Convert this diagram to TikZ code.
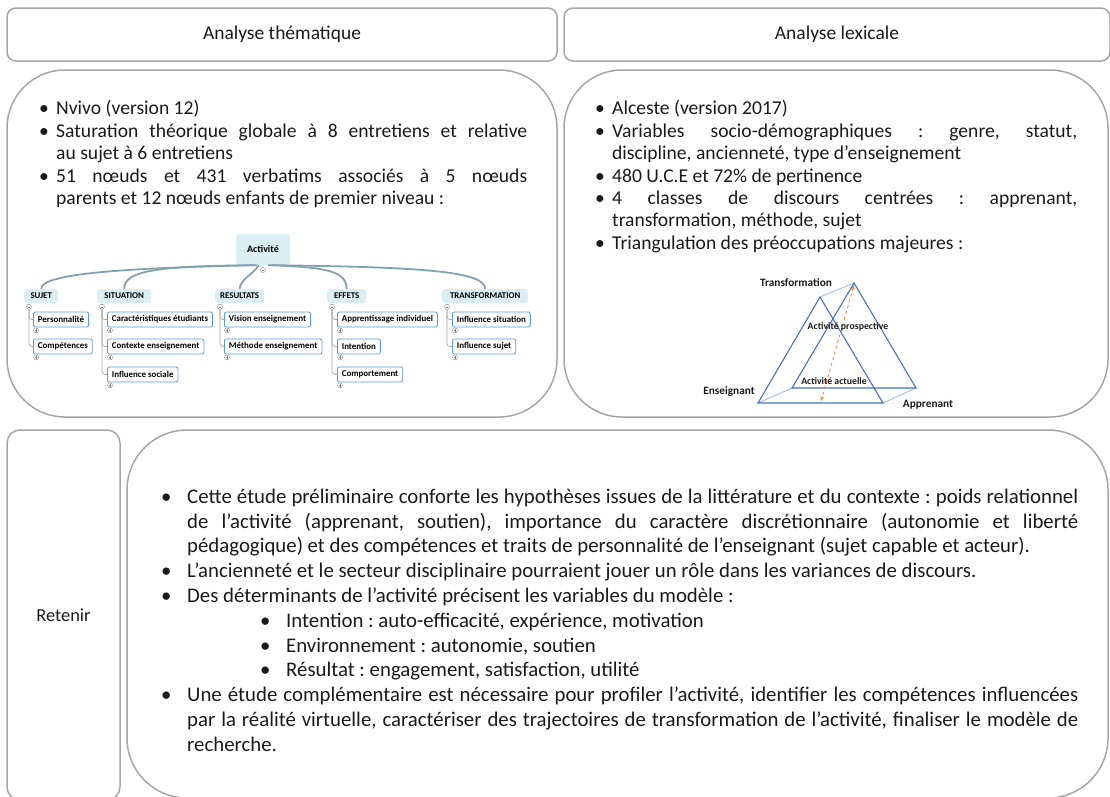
\documentclass[tikz,border=0pt]{standalone}
\usepackage{fontspec}
\setmainfont{Carlito}
\usetikzlibrary{positioning, arrows.meta, calc}
\definecolor{bord}{HTML}{A6A6A6}
\definecolor{mmfond}{HTML}{DAEEF3}
\definecolor{mmbleu}{HTML}{5B9BD5}
\definecolor{mmtrait}{HTML}{84A2AC}
\definecolor{tribleu}{HTML}{4472C4}
\definecolor{triclair}{HTML}{9DB5E0}
\definecolor{triorange}{HTML}{ED7D31}
\definecolor{texte}{HTML}{1A1A1A}
\frenchspacing
% puces des listes
\newcommand{\puce}[2][17pt]{\par\noindent\hangindent=#1\hangafter=1\makebox[#1][l]{\textbullet}#2\par}
\newcommand{\souspuce}[1]{\par\noindent\hangindent=125pt\hangafter=1\hspace*{99pt}\makebox[26pt][l]{\textbullet}#1\par}

\begin{document}
\begin{tikzpicture}[x=1pt, y=-1pt,
    cadre/.style={draw=bord, line width=1.5pt, inner sep=0pt},
    liste/.style={inner sep=0pt, align=justify, text=texte, font=\fontsize{19.6}{22.4}\selectfont},
    mmracine/.style={fill=mmfond, rounded corners=3pt, font=\fontsize{10}{11}\selectfont\bfseries, minimum width=54pt, minimum height=31pt, inner sep=0pt},
    mmparent/.style={fill=mmfond, rounded corners=3pt, font=\fontsize{8.8}{9}\selectfont\bfseries, minimum height=14pt, inner xsep=5pt, inner ysep=0pt, anchor=west},
    mmenfant/.style={draw=mmbleu, fill=white, line width=0.8pt, rounded corners=2pt, font=\fontsize{8.9}{9}\selectfont\bfseries, minimum height=15pt, inner xsep=4.5pt, inner ysep=0pt, anchor=west},
    mmtrait/.style={draw=mmtrait, line width=1.8pt},
    mmfil/.style={draw=bord, line width=0.7pt, rounded corners=3pt},
    mmmoins/.style={circle, draw=gray, fill=white, line width=0.4pt, inner sep=0pt, minimum size=5pt,
      path picture={\draw[gray, line width=0.4pt] ([xshift=-1.4pt]path picture bounding box.center) -- ([xshift=1.4pt]path picture bounding box.center);}},
    mmplus/.style={mmmoins, path picture={\draw[gray, line width=0.4pt] ([xshift=-1.4pt]path picture bounding box.center) -- ([xshift=1.4pt]path picture bounding box.center) ([yshift=-1.4pt]path picture bounding box.center) -- ([yshift=1.4pt]path picture bounding box.center);}},
    tri/.style={draw=tribleu, line width=1.1pt},
    triarete/.style={draw=triclair, line width=0.8pt},
    trilabel/.style={font=\fontsize{9.8}{11}\selectfont\bfseries, text=texte, inner sep=1pt},
    trisommet/.style={trilabel, font=\fontsize{11.3}{12}\selectfont\bfseries}]
  \useasboundingbox (0,0) rectangle (1110,796);
  \clip (0,0) rectangle (1110,796);

  % en-tetes
  \node[cadre, rounded corners=9pt, minimum width=550pt, minimum height=53pt, font=\fontsize{19.5}{22}\selectfont, text=texte] (thema) at (282,34.5) {Analyse thématique};
  \node[cadre, rounded corners=9pt, minimum width=546pt, minimum height=53pt, font=\fontsize{19.5}{22}\selectfont, text=texte] (lexi) at (837,34.5) {Analyse lexicale};

  % cadres principaux
  \node[cadre, rounded corners=58pt, minimum width=550pt, minimum height=347pt] (cadreg) at (282,243.5) {};
  \node[cadre, rounded corners=58pt, minimum width=544pt, minimum height=347pt] (cadred) at (836,243.5) {};
  \node[cadre, rounded corners=13pt, minimum width=113pt, minimum height=370pt, font=\fontsize{18.4}{22}\selectfont, text=texte] (retenir) at (63.5,615) {Retenir};
  \node[cadre, rounded corners=60pt, minimum width=981pt, minimum height=368pt] (cadreb) at (617.5,614) {};

  % texte analyse thematique
  \node[liste, text width=488pt, anchor=west] (txtg) at (39,150) {%
    \puce{Nvivo (version 12)}
    \puce{Saturation théorique globale à 8 entretiens et relative\linebreak au sujet à 6 entretiens}
    \puce{51 nœuds et 431 verbatims associés à 5 nœuds\linebreak parents et 12 nœuds enfants de premier niveau :}};

  % texte analyse lexicale
  \node[liste, text width=482pt, anchor=west] (txtd) at (595,172.5) {%
    \puce{Alceste (version 2017)}
    \puce{Variables socio-démographiques : genre, statut,\linebreak discipline, ancienneté, type d’enseignement}
    \puce{480 U.C.E et 72\% de pertinence}
    \puce{4 classes de discours centrées : apprenant,\linebreak transformation, méthode, sujet}
    \puce{Triangulation des préoccupations majeures :}};

  % texte retenir
  \node[liste, text width=917pt, anchor=west, font=\fontsize{20.8}{24.8}\selectfont] (txtb) at (161,615) {%
    \puce[26pt]{Cette étude préliminaire conforte les hypothèses issues de la littérature et du contexte : poids relationnel\linebreak de l’activité (apprenant, soutien), importance du caractère discrétionnaire (autonomie et liberté\linebreak pédagogique) et des compétences et traits de personnalité de l’enseignant (sujet capable et acteur).}
    \puce[26pt]{L’ancienneté et le secteur disciplinaire pourraient jouer un rôle dans les variances de discours.}
    \puce[26pt]{Des déterminants de l’activité précisent les variables du modèle :}
    \souspuce{Intention : auto-efficacité, expérience, motivation}
    \souspuce{Environnement : autonomie, soutien}
    \souspuce{Résultat : engagement, satisfaction, utilité}
    \puce[26pt]{Une étude complémentaire est nécessaire pour profiler l’activité, identifier les compétences influencées\linebreak par la réalité virtuelle, caractériser des trajectoires de transformation de l’activité, finaliser le modèle de\linebreak recherche.}};

  % carte mentale
  \node[mmracine] (act) at (263,249.5) {Activité};
  \node[mmparent, minimum width=34pt] (sujet) at (24,296) {SUJET};
  \node[mmparent, minimum width=54pt] (situ) at (97,296) {SITUATION};
  \node[mmparent, minimum width=47pt] (resu) at (215,296) {RESULTATS};
  \node[mmparent, minimum width=39pt] (effets) at (327,296) {EFFETS};
  \node[mmparent, minimum width=86pt] (transfo) at (442,296) {TRANSFORMATION};

  \node[mmenfant] (perso) at (33,319.5) {Personnalité};
  \node[mmenfant] (compe) at (33,346.5) {Compétences};
  \node[mmenfant] (carac) at (107,319.5) {Caractéristiques étudiants};
  \node[mmenfant] (contexte) at (107,346.5) {Contexte enseignement};
  \node[mmenfant] (social) at (107,374.5) {Influence sociale};
  \node[mmenfant] (vision) at (224,319.5) {Vision enseignement};
  \node[mmenfant] (methode) at (224,346.5) {Méthode enseignement};
  \node[mmenfant] (appren) at (337,319.5) {Apprentissage individuel};
  \node[mmenfant] (intention) at (337,346.5) {Intention};
  \node[mmenfant] (compor) at (337,374.5) {Comportement};
  \node[mmenfant] (infsitu) at (452,319.5) {Influence situation};
  \node[mmenfant] (infsujet) at (452,346.5) {Influence sujet};

  \draw[mmtrait] ($(act.south)+(-8,0)$) .. controls (130,268) and (41,273) .. (sujet.north);
  \draw[mmtrait] ($(act.south)+(-6,0)$) .. controls (160,266) and (124,270) .. (situ.north);
  \draw[mmtrait] ($(act.south)+(-4,0)$) .. controls (252,275) and (240,280) .. (resu.north);
  \draw[mmtrait] ($(act.south)+(5,0)$) .. controls (330,267) and (346,272) .. (effets.north);
  \draw[mmtrait] ($(act.south)+(8,0)$) .. controls (420,267) and (485,271) .. (transfo.north);
  \node[mmmoins] (r0) at (263,270) {};

  \foreach \p/\enfants in {sujet/{perso,compe}, situ/{carac,contexte,social}, resu/{vision,methode},
      effets/{appren,intention,compor}, transfo/{infsitu,infsujet}} {
    \node[mmmoins] (r-\p) at ($(\p.south west)+(5,3.5)$) {};
    \foreach \e in \enfants {
      \draw[mmfil] (r-\p.south) |- (\e.west);
      \node[mmplus] (r-\e) at ($(\e.south west)+(3,3)$) {};
    }
  }

  % triangulation
  \coordinate (a1) at (820,297);
  \coordinate (b1) at (758,403);
  \coordinate (c1) at (883,403);
  \coordinate (a2) at (854,283);
  \coordinate (b2) at (792,388);
  \coordinate (c2) at (916,388);
  \draw[triarete] (a1) -- (a2) (b1) -- (b2) (c1) -- (c2);
  \draw[tri] (a2) -- (b2) -- (c2) -- cycle;
  \draw[tri] (a1) -- (b1) -- (c1) -- cycle;
  \draw[triorange, line width=0.8pt, dashed, {Stealth[length=5pt]}-{Stealth[length=5pt]}] ($(a2)+(0,2)$) -- (821,401);
  \node[trisommet] (ltransfo) at (796,283) {Transformation};
  \node[trilabel] (lprosp) at (848,327) {Activité prospective};
  \node[trilabel] (lactu) at (834,381) {Activité actuelle};
  \node[trisommet] (lens) at (729,391) {Enseignant};
  \node[trisommet] (lapp) at (928,405) {Apprenant};
\end{tikzpicture}
\end{document}
